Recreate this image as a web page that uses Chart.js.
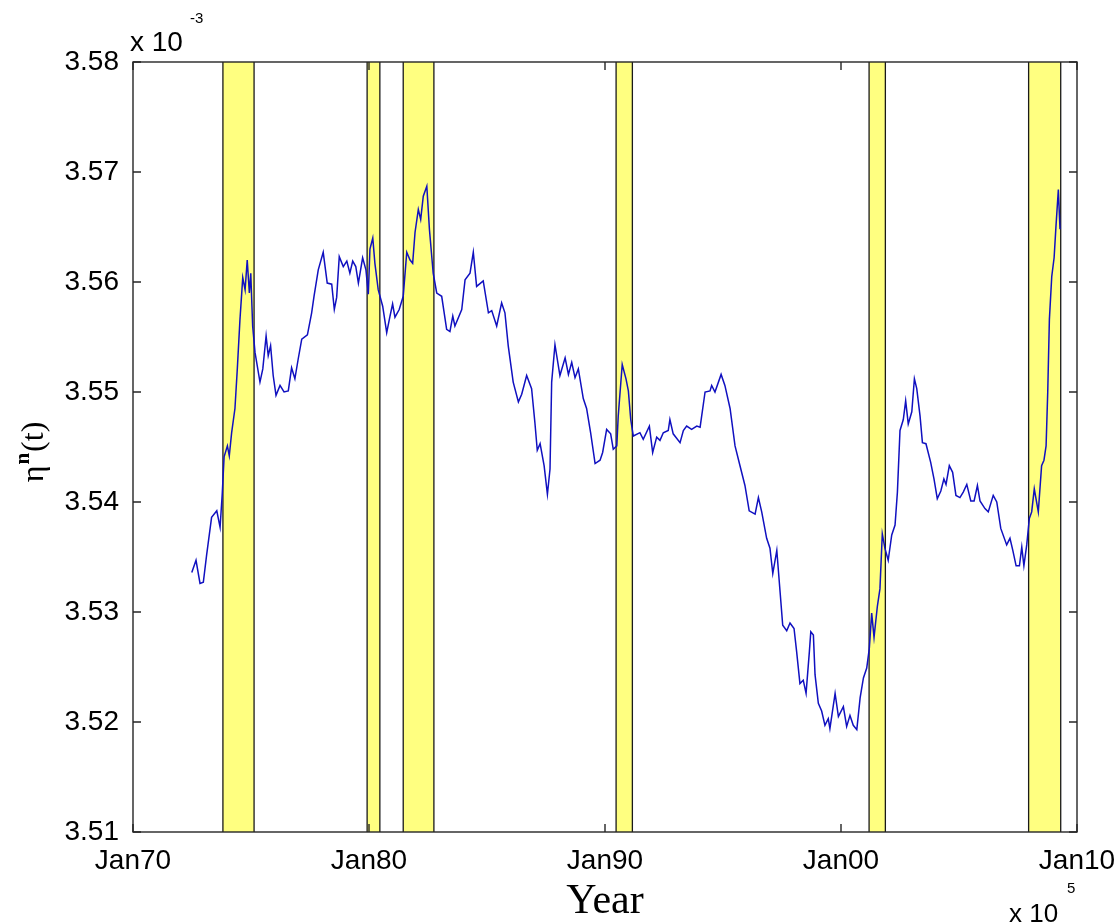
<!DOCTYPE html>
<html>
<head>
<meta charset="utf-8">
<script src="https://cdn.jsdelivr.net/npm/chart.js@4.4.1/dist/chart.umd.min.js"></script>
<style>
  html, body { margin: 0; padding: 0; background: #ffffff; }
  #wrap { width: 1120px; height: 924px; }
</style>
</head>
<body>
<div id="wrap"><canvas id="c" width="1120" height="924"></canvas></div>
<script>
// ---- data (eta in units of 1e-3) ----
const years = [1972.49,1972.67,1972.84,1972.98,1973.12,1973.33,1973.55,1973.69,1973.78,1973.86,
1974.00,1974.08,1974.18,1974.32,1974.42,1974.53,1974.65,1974.75,1974.84,1974.93,
1974.99,1975.07,1975.17,1975.38,1975.50,1975.64,1975.73,1975.83,1975.94,1976.06,
1976.23,1976.40,1976.58,1976.72,1976.86,1977.00,1977.15,1977.39,1977.57,1977.67,
1977.85,1978.06,1978.23,1978.42,1978.53,1978.63,1978.74,1978.91,1979.06,1979.19,
1979.31,1979.44,1979.55,1979.73,1979.87,1979.97,1980.04,1980.16,1980.25,1980.39,
1980.58,1980.75,1980.89,1981.00,1981.10,1981.28,1981.45,1981.60,1981.74,1981.85,
1981.95,1982.09,1982.19,1982.30,1982.45,1982.56,1982.72,1982.87,1983.08,1983.29,
1983.43,1983.55,1983.64,1983.93,1984.07,1984.28,1984.42,1984.56,1984.84,1985.06,
1985.20,1985.41,1985.62,1985.76,1985.90,1986.11,1986.33,1986.47,1986.68,1986.89,
1987.03,1987.13,1987.25,1987.42,1987.56,1987.67,1987.74,1987.88,1988.09,1988.31,
1988.45,1988.59,1988.73,1988.87,1989.08,1989.22,1989.39,1989.58,1989.79,1989.90,
1990.07,1990.24,1990.35,1990.50,1990.56,1990.73,1990.89,1990.99,1991.09,1991.20,
1991.48,1991.62,1991.88,1992.02,1992.19,1992.33,1992.47,1992.68,1992.75,1992.89,
1993.18,1993.32,1993.46,1993.67,1993.89,1994.03,1994.24,1994.45,1994.52,1994.66,
1994.92,1995.08,1995.30,1995.51,1995.72,1995.93,1996.11,1996.36,1996.50,1996.64,
1996.85,1996.99,1997.11,1997.28,1997.42,1997.53,1997.70,1997.84,1998.01,1998.12,
1998.26,1998.40,1998.52,1998.66,1998.72,1998.83,1998.90,1999.04,1999.18,1999.32,
1999.46,1999.53,1999.75,1999.89,2000.10,2000.24,2000.38,2000.52,2000.67,2000.81,
2000.95,2001.09,2001.20,2001.30,2001.40,2001.54,2001.65,2001.75,2001.86,2002.00,
2002.15,2002.29,2002.39,2002.50,2002.64,2002.74,2002.85,2003.00,2003.11,2003.21,
2003.35,2003.45,2003.60,2003.80,2003.94,2004.08,2004.23,2004.36,2004.45,2004.59,
2004.73,2004.87,2005.04,2005.18,2005.33,2005.50,2005.64,2005.78,2005.89,2006.10,
2006.24,2006.45,2006.60,2006.77,2007.02,2007.16,2007.28,2007.42,2007.56,2007.66,
2007.75,2007.87,2007.98,2008.08,2008.19,2008.36,2008.50,2008.60,2008.69,2008.76,
2008.83,2008.93,2009.03,2009.11,2009.21,2009.28];

const eta = [3.5336,3.5347,3.5326,3.5327,3.5352,3.5386,3.5392,3.5377,3.5407,3.5441,
3.5451,3.5442,3.5463,3.5485,3.5521,3.5565,3.5604,3.5593,3.5620,3.5590,
3.5608,3.5560,3.5536,3.5509,3.5521,3.5551,3.5533,3.5542,3.5515,3.5497,
3.5506,3.5500,3.5501,3.5522,3.5512,3.5530,3.5548,3.5552,3.5572,3.5587,
3.5611,3.5627,3.5599,3.5598,3.5575,3.5586,3.5623,3.5614,3.5619,3.5608,
3.5619,3.5614,3.5599,3.5622,3.5611,3.5589,3.5630,3.5640,3.5617,3.5593,
3.5578,3.5554,3.5569,3.5580,3.5568,3.5575,3.5587,3.5627,3.5620,3.5617,
3.5645,3.5666,3.5657,3.5678,3.5687,3.5648,3.5608,3.5590,3.5587,3.5557,
3.5555,3.5569,3.5560,3.5575,3.5602,3.5608,3.5627,3.5596,3.5601,3.5572,
3.5574,3.5560,3.5581,3.5572,3.5542,3.5509,3.5491,3.5498,3.5515,3.5503,
3.5472,3.5447,3.5453,3.5433,3.5407,3.5430,3.5509,3.5543,3.5515,3.5531,
3.5516,3.5527,3.5513,3.5521,3.5494,3.5485,3.5463,3.5435,3.5438,3.5445,
3.5466,3.5462,3.5448,3.5451,3.5478,3.5525,3.5512,3.5501,3.5475,3.5460,
3.5463,3.5457,3.5469,3.5445,3.5459,3.5456,3.5463,3.5465,3.5475,3.5462,
3.5454,3.5465,3.5469,3.5466,3.5469,3.5468,3.5500,3.5501,3.5506,3.5500,
3.5516,3.5506,3.5485,3.5451,3.5433,3.5415,3.5392,3.5389,3.5404,3.5391,
3.5367,3.5358,3.5335,3.5356,3.5318,3.5288,3.5283,3.5290,3.5285,3.5264,
3.5235,3.5238,3.5226,3.5264,3.5282,3.5279,3.5243,3.5217,3.5210,3.5197,
3.5203,3.5194,3.5226,3.5205,3.5214,3.5196,3.5206,3.5197,3.5193,3.5222,
3.5240,3.5249,3.5267,3.5299,3.5277,3.5305,3.5321,3.5371,3.5358,3.5347,
3.5370,3.5379,3.5409,3.5465,3.5475,3.5492,3.5471,3.5482,3.5512,3.5503,
3.5478,3.5454,3.5453,3.5436,3.5421,3.5403,3.5410,3.5421,3.5416,3.5433,
3.5427,3.5406,3.5404,3.5409,3.5416,3.5401,3.5401,3.5415,3.5401,3.5394,
3.5391,3.5406,3.5400,3.5376,3.5361,3.5367,3.5356,3.5342,3.5342,3.5359,
3.5342,3.5361,3.5385,3.5391,3.5412,3.5391,3.5433,3.5438,3.5451,3.5500,
3.5566,3.5605,3.5622,3.5651,3.5684,3.5648];

// recession shading (start / end, decimal years)
const recessionStart = [1973.81, 1979.92, 1981.45, 1990.47, 2001.19, 2007.95];
const recessionEnd   = [1975.13, 1980.46, 1982.75, 1991.16, 2001.88, 2009.31];

// ticks
const xTickValues = [1970, 1980, 1990, 2000, 2010];
const xTickLabels = ['Jan70', 'Jan80', 'Jan90', 'Jan00', 'Jan10'];
const yTickValues = [3.51, 3.52, 3.53, 3.54, 3.55, 3.56, 3.57, 3.58];
const yTickLabels = ['3.51', '3.52', '3.53', '3.54', '3.55', '3.56', '3.57', '3.58'];

const xMin = 1970, xMax = 2010, yMin = 3.51, yMax = 3.58;
const tickFont = '"Liberation Sans", Arial, sans-serif';
const serifFont = '"Liberation Serif", "Times New Roman", serif';
const AXIS_COLOR = '#262626';

const points = years.map((y, i) => ({ x: y, y: eta[i] }));

const recessionPlugin = {
  id: 'recessions',
  beforeDatasetsDraw(chart) {
    const { ctx, chartArea, scales } = chart;
    const xs = scales.x;
    ctx.save();
    for (let i = 0; i < recessionStart.length; i++) {
      const x1 = xs.getPixelForValue(recessionStart[i]);
      const x2 = xs.getPixelForValue(recessionEnd[i]);
      ctx.fillStyle = '#ffff80';
      ctx.fillRect(x1, chartArea.top, x2 - x1, chartArea.bottom - chartArea.top);
      ctx.strokeStyle = '#1a1a1a';
      ctx.lineWidth = 1.3;
      ctx.beginPath();
      ctx.moveTo(x1, chartArea.top); ctx.lineTo(x1, chartArea.bottom);
      ctx.moveTo(x2, chartArea.top); ctx.lineTo(x2, chartArea.bottom);
      ctx.stroke();
    }
    ctx.restore();
  }
};

const framePlugin = {
  id: 'frame',
  afterDraw(chart) {
    const { ctx, chartArea, scales } = chart;
    const { left, right, top, bottom } = chartArea;
    const tl = 8;
    ctx.save();
    ctx.strokeStyle = AXIS_COLOR;
    ctx.lineWidth = 1.4;
    ctx.strokeRect(left, top, right - left, bottom - top);
    ctx.beginPath();
    yTickValues.forEach(v => {
      const y = scales.y.getPixelForValue(v);
      ctx.moveTo(left, y); ctx.lineTo(left + tl, y);
      ctx.moveTo(right, y); ctx.lineTo(right - tl, y);
    });
    xTickValues.forEach(v => {
      const x = scales.x.getPixelForValue(v);
      ctx.moveTo(x, bottom); ctx.lineTo(x, bottom - tl);
      ctx.moveTo(x, top); ctx.lineTo(x, top + tl);
    });
    ctx.stroke();

    // exponent labels
    ctx.fillStyle = '#000';
    ctx.textAlign = 'left';
    ctx.textBaseline = 'alphabetic';
    ctx.font = '28px ' + tickFont;
    ctx.fillText('x 10', 130, 51);
    ctx.font = '15px ' + tickFont;
    ctx.fillText('-3', 190, 23);
    ctx.font = '26px ' + tickFont;
    ctx.fillText('x 10', 1009, 922);
    ctx.font = '15px ' + tickFont;
    ctx.fillText('5', 1067, 893);

    // x axis title
    ctx.font = '42px ' + serifFont;
    ctx.textAlign = 'center';
    ctx.fillText('Year', (left + right) / 2, 913);

    // y axis title: eta^n(t), rotated
    ctx.translate(43, (top + bottom) / 2 + 6);
    ctx.rotate(-Math.PI / 2);
    const f1 = '32px ' + serifFont, f2 = 'bold 21px ' + serifFont;
    ctx.font = f1; const w1 = ctx.measureText('\u03B7').width;
    ctx.font = f2; const w2 = ctx.measureText('n').width;
    ctx.font = f1; const w3 = ctx.measureText('(t)').width;
    let x0 = -(w1 + w2 + w3) / 2;
    ctx.textAlign = 'left';
    ctx.font = f1; ctx.fillText('\u03B7', x0, 0);
    ctx.font = f2; ctx.fillText('n', x0 + w1 + 1, -14);
    ctx.font = f1; ctx.fillText('(t)', x0 + w1 + w2 + 2, 0);
    ctx.restore();
  }
};

new Chart(document.getElementById('c'), {
  type: 'line',
  data: {
    datasets: [{
      data: points,
      borderColor: '#1010c0',
      borderWidth: 1.5,
      pointRadius: 0,
      tension: 0,
      fill: false
    }]
  },
  options: {
    responsive: false,
    animation: false,
    devicePixelRatio: 1,
    layout: { padding: { left: 0, top: 62, right: 43, bottom: 0 } },
    plugins: { legend: { display: false }, tooltip: { enabled: false } },
    scales: {
      x: {
        type: 'linear',
        min: xMin, max: xMax,
        grid: { display: false, drawTicks: false },
        border: { display: false },
        afterBuildTicks(scale) { scale.ticks = xTickValues.map(v => ({ value: v })); },
        afterFit(scale) { scale.height = 92; scale.paddingLeft = 0; scale.paddingRight = 0; },
        ticks: {
          autoSkip: false, maxRotation: 0, padding: 12,
          color: '#000',
          font: { family: tickFont, size: 28 },
          callback: (v) => xTickLabels[xTickValues.indexOf(v)]
        }
      },
      y: {
        type: 'linear',
        min: yMin, max: yMax,
        grid: { display: false, drawTicks: false },
        border: { display: false },
        afterBuildTicks(scale) { scale.ticks = yTickValues.map(v => ({ value: v })); },
        afterFit(scale) { scale.width = 133; scale.paddingTop = 0; scale.paddingBottom = 0; },
        ticks: {
          autoSkip: false, padding: 14,
          color: '#000',
          font: { family: tickFont, size: 28 },
          callback: (v) => yTickLabels[yTickValues.findIndex(t => Math.abs(t - v) < 1e-6)]
        }
      }
    }
  },
  plugins: [recessionPlugin, framePlugin]
});
</script>
</body>
</html>
